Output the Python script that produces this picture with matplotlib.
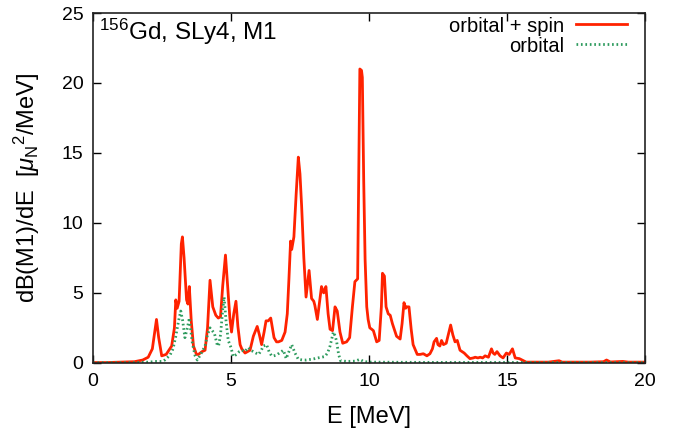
import matplotlib
matplotlib.use("Agg")
import matplotlib.pyplot as plt

plt.rcParams['font.family'] = ['Liberation Sans', 'DejaVu Sans']
plt.rcParams['mathtext.fontset'] = 'custom'
plt.rcParams['mathtext.rm'] = 'Liberation Sans'
plt.rcParams['mathtext.it'] = 'Liberation Sans:italic'

# orbital + spin
e_spin = [0, 0.5, 1.0, 1.5, 1.8, 2.0, 2.15, 2.25, 2.3, 2.38, 2.49, 2.65, 2.85, 2.95,
          3.0, 3.05, 3.12, 3.2, 3.24, 3.3, 3.39, 3.44, 3.49, 3.56, 3.64, 3.75, 3.82,
          3.95, 4.06, 4.15, 4.24, 4.34, 4.45, 4.54, 4.62, 4.7, 4.8, 4.88, 4.96, 5.02,
          5.1, 5.18, 5.25, 5.33, 5.39, 5.51, 5.6, 5.69, 5.81, 5.95, 6.03, 6.11, 6.2,
          6.27, 6.35, 6.44, 6.56, 6.65, 6.72, 6.84, 6.96, 7.04, 7.1, 7.16, 7.2, 7.28,
          7.36, 7.44, 7.5, 7.56, 7.64, 7.72, 7.83, 7.92, 8.0, 8.04, 8.13, 8.2, 8.28,
          8.36, 8.44, 8.52, 8.59, 8.68, 8.77, 8.85, 8.95, 9.05, 9.19, 9.3, 9.4, 9.49,
          9.59, 9.67, 9.73, 9.76, 9.81, 9.86, 9.92, 9.97, 10.03, 10.1, 10.16, 10.28,
          10.37, 10.45, 10.49, 10.56, 10.62, 10.7, 10.77, 10.85, 11.0, 11.13, 11.2,
          11.27, 11.33, 11.37, 11.45, 11.53, 11.6, 11.75, 11.85, 11.97, 12.1, 12.21,
          12.3, 12.36, 12.45, 12.5, 12.57, 12.63, 12.7, 12.8, 12.9, 12.96, 13.04,
          13.12, 13.2, 13.3, 13.45, 13.55, 13.66, 13.78, 13.85, 13.95, 14.03, 14.12,
          14.21, 14.33, 14.44, 14.5, 14.56, 14.64, 14.75, 14.86, 14.98, 15.08, 15.2,
          15.3, 15.45, 15.6, 15.7, 16.5, 16.89, 17.0, 18.0, 18.5, 18.61, 18.75, 19.2,
          19.4, 20.0]
db_spin = [0.02, 0.02, 0.05, 0.08, 0.2, 0.4, 1.0, 2.4, 3.1, 1.8, 0.5, 0.6, 1.2, 2.5,
           4.5, 3.9, 4.4, 8.5, 9.0, 7.5, 4.5, 4.2, 5.45, 3.0, 1.2, 0.6, 0.6,
           0.8, 0.9, 2.5, 5.9, 4.0, 3.4, 3.2, 3.3, 5.5, 7.7, 5.5, 3.2, 2.2,
           3.5, 4.4, 2.6, 1.3, 1.0, 0.7, 0.8, 0.9, 1.9, 2.6, 2.0, 1.3, 2.2,
           3.0, 3.0, 3.2, 1.8, 1.5, 1.5, 1.6, 2.2, 3.5, 6.0, 8.7, 8.1, 9.0,
           12.0, 14.7, 13.5, 11.2, 7.5, 4.7, 6.6, 4.6, 4.4, 4.1, 3.1, 4.2, 5.45,
           5.0, 5.45, 3.5, 2.4, 2.3, 4.0, 3.7, 2.2, 1.4, 1.5, 1.8, 4.0, 5.8,
           6.0, 21.0, 20.9, 20.4, 13.0, 7.4, 4.0, 3.1, 2.5, 2.4, 2.3, 1.5,
           1.6, 4.0, 6.4, 6.2, 4.0, 3.5, 3.4, 2.8, 1.9, 1.7, 2.8,
           4.3, 3.9, 4.0, 4.0, 2.4, 1.3, 0.6, 0.6, 0.65, 0.5, 0.65,
           1.0, 1.5, 1.75, 1.3, 1.2, 1.6, 1.3, 1.4, 2.2, 2.7, 2.0,
           1.5, 1.6, 0.9, 0.7, 0.5, 0.3, 0.35, 0.4, 0.35, 0.4, 0.35,
           0.5, 0.4, 1.0, 0.7, 0.6, 0.8, 0.5, 0.35, 0.7, 0.6, 1.0,
           0.35, 0.3, 0.15, 0.05, 0.05, 0.15, 0.05, 0.05, 0.08, 0.2, 0.06, 0.1,
           0.05, 0.05]

# orbital only
e_orb = [0, 1.5, 2.0, 2.3, 2.5, 2.6, 2.79, 2.9, 3.0, 3.1, 3.18, 3.25, 3.33, 3.42,
         3.49, 3.55, 3.6, 3.7, 3.78, 3.9, 4.06, 4.15, 4.24, 4.32, 4.4, 4.5, 4.55,
         4.62, 4.7, 4.75, 4.82, 4.9, 5.0, 5.08, 5.2, 5.3, 5.4, 5.5, 5.63, 5.72,
         5.81, 5.9, 6.0, 6.1, 6.17, 6.29, 6.38, 6.47, 6.55, 6.65, 6.75, 6.9, 7.0,
         7.1, 7.2, 7.32, 7.44, 7.6, 7.72, 7.9, 8.04, 8.15, 8.28, 8.4, 8.5, 8.59,
         8.71, 8.78, 8.83, 8.9, 8.97, 9.2, 9.5, 9.67, 9.8, 10.0, 12.0, 20.0]
db_orb = [0.01, 0.02, 0.05, 0.1, 0.1, 0.2, 0.55, 1.0, 1.9, 3.0, 3.7, 3.0, 1.8, 2.5,
          3.2, 2.2, 1.4, 0.5, 0.2, 0.6, 1.2, 2.0, 2.5, 2.3, 2.1, 1.3, 1.2,
          2.0, 3.8, 4.7, 3.0, 1.6, 1.1, 0.45, 0.6, 0.8, 0.9, 0.8, 1.1, 0.9,
          0.8, 0.7, 0.6, 0.9, 1.2, 1.3, 0.8, 0.5, 0.5, 0.55, 0.7, 0.9, 0.3,
          0.8, 1.3, 0.7, 0.25, 0.2, 0.2, 0.25, 0.3, 0.35, 0.4, 0.45, 0.7, 1.2,
          2.2, 1.9, 1.5, 0.6, 0.15, 0.1, 0.12, 0.25, 0.1, 0.05, 0.03, 0.02]

fig = plt.figure(figsize=(6.89, 4.34), dpi=100)
ax = fig.add_axes([0.135, 0.164, 0.801, 0.806])

ax.plot(e_spin, db_spin, color='#ff2200', lw=2.0, label='orbital + spin')
ax.plot(e_orb, db_orb, color='#2e9b5e', lw=2.0, ls=(0, (0.6, 1.0)), label='orbital')

ax.set_xlim(0, 20)
ax.set_ylim(0, 25)
ax.set_xticks([0, 5, 10, 15, 20])
ax.set_yticks([0, 5, 10, 15, 20, 25])
ax.tick_params(direction='in', top=True, right=True, length=6, width=1,
               labelsize=14)
ax.tick_params(axis='x', pad=7)
ax.tick_params(axis='y', pad=7)
for s in ax.spines.values():
    s.set_linewidth(1.2)
    s.set_color('#222222')

ax.set_xlabel('E [MeV]', fontsize=17, labelpad=12)
ax.set_ylabel(r'dB(M1)/dE  [$\mu_{\rm N}{}^2$/MeV]', fontsize=17, labelpad=14)

ax.text(0.01, 0.99, r'$^{156}$Gd, SLy4, M1', transform=ax.transAxes,
        ha='left', va='top', fontsize=17.5)

ax.legend(loc='upper right', bbox_to_anchor=(0.967, 0.99), frameon=False,
          markerfirst=False, fontsize=14.5, handlelength=2.5, handletextpad=0.6,
          labelspacing=0.05, borderaxespad=0, borderpad=0)

fig.savefig('out.png', dpi=100)
